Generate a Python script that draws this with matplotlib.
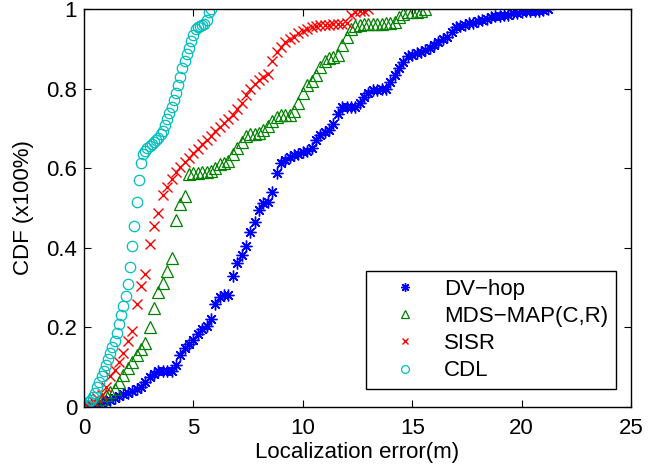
import numpy as np
import matplotlib
matplotlib.use("Agg")
import matplotlib.pyplot as plt

# ---- data (CDF values, on regular error grids) ----
dvhop_step = 0.2
dvhop_cdf = [0.0, 0.0, 0.003, 0.006, 0.010, 0.014, 0.018, 0.023, 0.027, 0.032,
             0.036, 0.040, 0.045, 0.050, 0.063, 0.076, 0.084, 0.090, 0.091, 0.091,
             0.091, 0.105, 0.131, 0.148, 0.158, 0.168, 0.183, 0.195, 0.203, 0.222,
             0.258, 0.276, 0.281, 0.281, 0.328, 0.362, 0.382, 0.405, 0.441, 0.465,
             0.494, 0.512, 0.514, 0.541, 0.588, 0.614, 0.621, 0.629, 0.633, 0.637,
             0.641, 0.644, 0.652, 0.672, 0.683, 0.692, 0.696, 0.710, 0.737, 0.754,
             0.754, 0.754, 0.754, 0.764, 0.779, 0.790, 0.796, 0.797, 0.799, 0.800,
             0.816, 0.835, 0.852, 0.868, 0.881, 0.885, 0.889, 0.892, 0.896, 0.902,
             0.910, 0.917, 0.924, 0.931, 0.943, 0.954, 0.958, 0.961, 0.964, 0.966,
             0.969, 0.972, 0.975, 0.979, 0.982, 0.983, 0.984, 0.986, 0.989, 0.991,
             0.993, 0.994, 0.994, 0.995, 0.995, 0.997, 1.0]

mds_step = 0.2
mds_cdf = [0.0, 0.0, 0.003, 0.010, 0.021, 0.030, 0.038, 0.046, 0.064, 0.080,
           0.097, 0.114, 0.130, 0.146, 0.162, 0.200, 0.250, 0.290, 0.312, 0.342,
           0.375, 0.470, 0.510, 0.530, 0.585, 0.588, 0.589, 0.590, 0.591, 0.592,
           0.600, 0.611, 0.612, 0.619, 0.635, 0.652, 0.667, 0.681, 0.685, 0.687,
           0.688, 0.696, 0.707, 0.718, 0.728, 0.734, 0.734, 0.734, 0.744, 0.765,
           0.790, 0.810, 0.820, 0.835, 0.855, 0.870, 0.878, 0.879, 0.885, 0.909,
           0.930, 0.949, 0.958, 0.961, 0.962, 0.962, 0.963, 0.963, 0.963, 0.964,
           0.964, 0.968, 0.979, 0.988, 0.993, 0.993, 0.993, 0.995, 1.0]

sisr_step = 0.2
sisr_cdf = [0.0, 0.010, 0.015, 0.022, 0.030, 0.050, 0.077, 0.093, 0.113, 0.135,
            0.165, 0.190, 0.260, 0.305, 0.335, 0.410, 0.455, 0.487, 0.533, 0.553,
            0.573, 0.591, 0.604, 0.615, 0.626, 0.638, 0.649, 0.660, 0.671, 0.682,
            0.693, 0.704, 0.715, 0.724, 0.733, 0.749, 0.765, 0.784, 0.800, 0.813,
            0.821, 0.830, 0.838, 0.870, 0.892, 0.906, 0.918, 0.924, 0.931, 0.939,
            0.946, 0.950, 0.954, 0.957, 0.959, 0.960, 0.961, 0.962, 0.963, 0.963,
            0.964, 0.985, 0.993, 0.995, 0.996, 1.0]

cdl_step = 0.1
cdl_cdf = [0.0, 0.005, 0.012, 0.018, 0.024, 0.036, 0.050, 0.064, 0.078, 0.091,
           0.105, 0.120, 0.136, 0.151, 0.165, 0.187, 0.208, 0.230, 0.253, 0.278,
           0.309, 0.352, 0.404, 0.455, 0.514, 0.571, 0.613, 0.637, 0.644, 0.650,
           0.655, 0.660, 0.665, 0.670, 0.677, 0.686, 0.694, 0.708, 0.723, 0.738,
           0.754, 0.771, 0.789, 0.810, 0.830, 0.851, 0.869, 0.886, 0.903, 0.920,
           0.935, 0.950, 0.954, 0.958, 0.960, 0.962, 0.972, 0.992, 1.0]

labels = ["DV\u2212hop", "MDS\u2212MAP(C,R)", "SISR", "CDL"]
x_ticks = [0, 5, 10, 15, 20, 25]
y_ticks = [0, 0.2, 0.4, 0.6, 0.8, 1]
y_ticklabels = ["0", "0.2", "0.4", "0.6", "0.8", "1"]


def grid(step, vals):
    return np.arange(len(vals)) * step


plt.rcParams['font.family'] = ['Liberation Sans', 'DejaVu Sans']
FS = 16
fig = plt.figure(figsize=(6.57, 4.67), dpi=100)
ax = fig.add_axes([0.1279, 0.1285, 0.8325, 0.852])

ax.plot(grid(dvhop_step, dvhop_cdf), dvhop_cdf, linestyle='none',
        marker=(8, 2, 0), markersize=8.5, markeredgewidth=1.0, color=(0, 0, 1),
        label=labels[0])
ax.plot(grid(mds_step, mds_cdf), mds_cdf, linestyle='none', marker='^',
        markersize=8, markerfacecolor='none', markeredgewidth=0.9,
        color=(0, 0.5, 0), label=labels[1])
ax.plot(grid(sisr_step, sisr_cdf), sisr_cdf, linestyle='none', marker='x',
        markersize=6.5, markeredgewidth=1.0, color=(1, 0, 0), label=labels[2])
ax.plot(grid(cdl_step, cdl_cdf), cdl_cdf, linestyle='none', marker='o',
        markersize=7.5, markerfacecolor='none', markeredgewidth=0.9,
        color=(0, 0.75, 0.75), label=labels[3])

ax.set_xlim(0, 25)
ax.set_ylim(0, 1)
ax.set_xticks(x_ticks)
ax.set_yticks(y_ticks)
ax.set_yticklabels(y_ticklabels)
ax.tick_params(direction='in', top=True, right=True, length=5, width=0.8,
               labelsize=FS, pad=5)
ax.tick_params(axis='x', pad=8)
for s in ax.spines.values():
    s.set_linewidth(1.0)
ax.set_xlabel("Localization error(m)", fontsize=FS, labelpad=2)
ax.set_ylabel("CDF (x100%)", fontsize=FS, labelpad=9)

leg = ax.legend(loc='lower left', bbox_to_anchor=(0.5155, 0.045), fontsize=FS,
                frameon=True, fancybox=False, edgecolor='black', framealpha=1,
                borderpad=0.35, labelspacing=0.28, handlelength=2.8,
                handletextpad=0.35, borderaxespad=0, markerscale=0.75)
leg.get_frame().set_linewidth(1.0)

fig.savefig("out.png", dpi=100)
